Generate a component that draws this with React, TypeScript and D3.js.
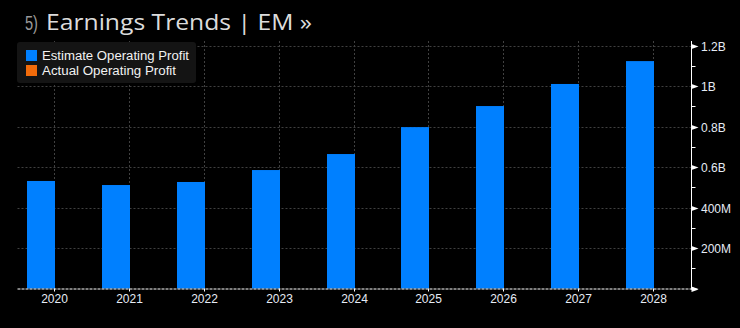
import React from "react";
import * as d3 from "d3";

const years = ["2020", "2021", "2022", "2023", "2024", "2025", "2026", "2027", "2028"];
const estimateProfit = [0.531e9, 0.511e9, 0.526e9, 0.585e9, 0.664e9, 0.797e9, 0.901e9, 1.01e9, 1.123e9];
const actualProfit: (number | null)[] = [null, null, null, null, null, null, null, null, null];
const yTicks = [0, 0.2e9, 0.4e9, 0.6e9, 0.8e9, 1.0e9, 1.2e9];
const yTickLabels = ["", "200M", "400M", "0.6B", "0.8B", "1B", "1.2B"];
const legendLabels = ["Estimate Operating Profit", "Actual Operating Profit"];
const colors = ["#0080ff", "#f26b0a"];

const W = 740, H = 328;
const plotLeft = 17.5, plotRight = 691.5, plotTop = 41, baseY = 288.5;

export default function App() {
  const x = d3.scaleBand<string>().domain(years).range([plotLeft, plotRight]).padding(0);
  const y = d3.scaleLinear().domain([0, 1.2e9]).range([baseY, 45.5]);
  const bw = 28;
  const minor = d3.range(0.1e9, 1.2e9, 0.2e9);
  const font = "'Liberation Sans', Arial, sans-serif";
  const legendWidths = [147, 134];
  return (
    <svg width={W} height={H} style={{ position: "absolute", left: 0, top: 0, background: "#000" }}>
      <rect x={0} y={0} width={W} height={H} fill="#000" />
      {/* title */}
      <text x={25} y={30} fontFamily={font} fontSize={21} fill="#9a9a9a" textLength={13} lengthAdjust="spacingAndGlyphs">5)</text>
      <text x={46} y={30} fontFamily="'Open Sans', sans-serif" fontSize={21} fill="#dcdcdc" textLength={266} lengthAdjust="spacingAndGlyphs">Earnings Trends | EM »</text>
      {/* gridlines */}
      {yTicks.filter((t) => t > 0).map((t) => (
        <line key={"h" + t} x1={plotLeft} x2={plotRight} y1={Math.round(y(t)) + 0.5} y2={Math.round(y(t)) + 0.5} stroke="#404040" strokeDasharray="2,2" />
      ))}
      {years.map((yr) => {
        const cx = Math.round(x(yr)! + x.bandwidth() / 2) - 0.5;
        return <line key={"v" + yr} x1={cx} x2={cx} y1={plotTop} y2={baseY} stroke="#404040" strokeDasharray="2,2" />;
      })}
      {/* bars */}
      {years.map((yr, i) => {
        const cx = Math.round(x(yr)! + x.bandwidth() / 2);
        return <rect key={"b" + yr} x={cx - bw} y={y(estimateProfit[i])} width={bw} height={baseY - y(estimateProfit[i])} fill={colors[0]} />;
      })}
      {years.map((yr, i) => {
        const v = actualProfit[i];
        if (v == null) return null;
        const cx = Math.round(x(yr)! + x.bandwidth() / 2);
        return <rect key={"a" + yr} x={cx} y={y(v)} width={bw} height={baseY - y(v)} fill={colors[1]} />;
      })}
      {/* x axis */}
      <line x1={plotLeft} x2={plotRight} y1={baseY + 0.5} y2={baseY + 0.5} stroke="#fff" strokeDasharray="3,1" />
      <path d={`M${plotRight},${baseY - 2} L${plotRight + 7},${baseY + 0.5} L${plotRight},${baseY + 1.5} Z`} fill="#fff" />
      {years.map((yr) => {
        const cx = Math.round(x(yr)! + x.bandwidth() / 2) - 0.5;
        return (
          <g key={"xl" + yr}>
            <line x1={cx} x2={cx} y1={baseY} y2={baseY + 3} stroke="#fff" />
            <text x={cx} y={303} textAnchor="middle" fontFamily={font} fontSize={12} fill="#e6ecf5">{yr}</text>
          </g>
        );
      })}
      {/* y axis */}
      <line x1={plotRight} x2={plotRight} y1={plotTop} y2={baseY + 1} stroke="#fff" />
      {yTicks.map((t, i) => {
        const ty = Math.round(y(t)) + 0.5;
        return (
          <g key={"yt" + t}>
            <path d={`M${plotRight},${ty - 2.5} L${plotRight + 7},${ty} L${plotRight},${ty + 2.5} Z`} fill="#fff" />
            {yTickLabels[i] && (
              <text x={701} y={ty + 4} fontFamily={font} fontSize={12} fill="#e6ecf5">{yTickLabels[i]}</text>
            )}
          </g>
        );
      })}
      {minor.map((t) => {
        const ty = Math.round(y(t)) + 0.5;
        return <line key={"m" + t} x1={plotRight} x2={plotRight + 4} y1={ty} y2={ty} stroke="#fff" />;
      })}
      {/* legend */}
      <rect x={17} y={42} width={179} height={41} rx={3} fill="#141414" />
      {legendLabels.map((l, i) => (
        <g key={l}>
          <rect x={26} y={50 + i * 15} width={11} height={11} fill={colors[i]} />
          <text x={42} y={60 + i * 15} fontFamily={font} fontSize={12.5} fill="#f2f2f2" textLength={legendWidths[i]} lengthAdjust="spacingAndGlyphs">{l}</text>
        </g>
      ))}
    </svg>
  );
}
